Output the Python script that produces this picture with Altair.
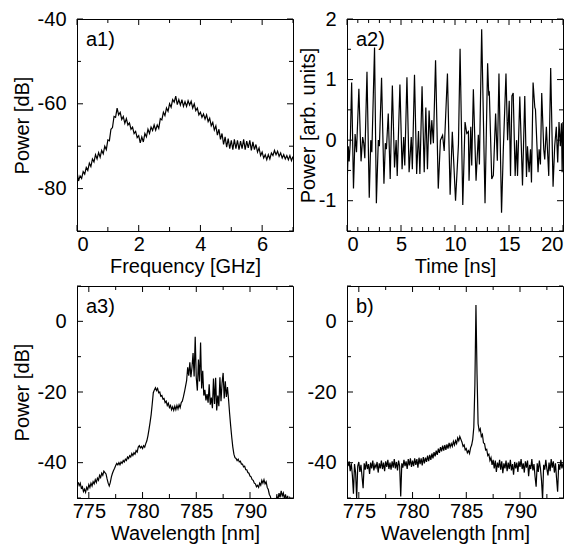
import altair as alt
import pandas as pd

FONT = "Liberation Sans"
W, H = 216, 212


def grid(start, step, n):
    return [round(start + i * step, 3) for i in range(n)]


a1_freq = grid(0.0, 0.05, 141)
a1_power = [
    -76.0, -78.2, -77.0, -77.6, -76.0, -76.6, -75.0, -75.7, -74.0, -74.8,
    -73.0, -73.7, -72.0, -73.0, -71.5, -72.6, -71.0, -71.8, -70.0, -70.8,
    -68.5, -68.7, -66.0, -65.6, -63.0, -63.2, -61.0, -62.6, -62.0, -63.7,
    -63.0, -64.6, -63.5, -65.0, -64.5, -66.0, -65.5, -67.0, -66.5, -68.0,
    -67.5, -69.2, -67.8, -69.0, -67.0, -67.8, -66.0, -67.0, -65.5, -66.3,
    -65.0, -66.2, -65.0, -65.8, -63.5, -63.8, -62.0, -62.8, -61.0, -61.8,
    -60.0, -60.8, -59.0, -59.6, -58.2, -60.2, -59.0, -60.3, -59.0, -60.6,
    -59.5, -60.6, -59.3, -60.3, -59.4, -61.0, -60.0, -61.6, -61.0, -62.6,
    -62.0, -63.2, -62.4, -63.6, -62.6, -64.2, -63.4, -65.2, -64.4, -66.2,
    -65.2, -67.4, -66.0, -68.4, -67.0, -69.6, -67.8, -70.2, -68.2, -70.6,
    -68.6, -70.8, -68.4, -70.6, -68.6, -70.8, -68.8, -70.6, -68.4, -70.8,
    -68.8, -70.4, -68.6, -71.0, -69.0, -70.8, -69.6, -71.4, -70.4, -72.2,
    -71.4, -72.8, -72.0, -73.2, -72.0, -73.0, -71.6, -72.2, -71.0, -72.0,
    -71.2, -72.4, -71.6, -72.8, -72.0, -73.0, -72.2, -73.2, -72.2, -73.4,
    -72.4,
]

a2_time = [
    0.00, 0.12, 0.20, 0.30, 0.43, 0.60, 0.75, 0.88, 1.10, 1.30,
    1.45, 1.55, 1.65, 1.85, 2.06, 2.20, 2.30, 2.55, 2.72, 2.90,
    3.00, 3.20, 3.42, 3.55, 3.65, 3.82, 4.00, 4.20, 4.40, 4.55,
    4.65, 4.90, 5.10, 5.25, 5.35, 5.55, 5.75, 5.95, 6.05, 6.25,
    6.45, 6.62, 6.75, 6.95, 7.15, 7.30, 7.45, 7.60, 7.75, 7.85,
    8.00, 8.20, 8.45, 8.65, 8.85, 9.00, 9.30, 9.55, 9.75, 10.05,
    10.32, 10.47, 10.72, 10.93, 11.09, 11.24, 11.30, 11.46, 11.55, 11.70,
    11.95, 12.16, 12.26, 12.47, 12.78, 13.02, 13.12, 13.18, 13.40, 13.55,
    13.76, 13.92, 14.07, 14.31, 14.47, 14.72, 14.87, 15.02, 15.14, 15.27,
    15.39, 15.57, 15.70, 15.79, 16.00, 16.25, 16.46, 16.62, 16.71, 16.86,
    16.99, 17.08, 17.23, 17.39, 17.45, 17.69, 17.79, 17.91, 18.03, 18.22,
    18.31, 18.46, 18.68, 18.86, 19.08, 19.23, 19.38, 19.51, 19.63, 19.75,
    19.86, 19.92, 20.00,
]
a2_power = [
    -0.80, -0.10, -0.35, -0.05, 0.95, -0.80, 0.10, -0.20, 0.85, -0.35,
    0.05, -0.05, -0.30, 1.13, -0.95, 0.00, -0.20, 1.53, -1.04, 0.00,
    -0.10, 1.03, -0.72, -0.05, -0.15, 0.44, -0.64, 0.90, -0.45, 0.00,
    -0.59, 0.92, -0.48, 0.05, -0.42, 1.04, -0.53, 0.05, -0.48, 1.08,
    -0.56, 0.15, -0.56, 0.89, -0.53, 0.54, -0.48, 0.49, -0.07, 0.33,
    -0.05, 1.32, -0.80, 0.00, 0.08, -0.18, 1.10, -0.90, 0.14, -1.00,
    -0.07, 1.51, -1.07, 0.30, 0.11, 0.14, -0.67, 0.22, -0.42, 0.84,
    -0.67, 0.09, -0.40, 1.83, -1.04, 1.27, 0.76, 0.78, -0.64, -0.58,
    0.44, -0.34, 1.10, -1.20, -0.18, 1.10, 0.00, 0.65, -0.59, 0.73,
    0.78, -0.59, 0.00, -0.59, 0.72, -0.75, 0.73, -0.61, -0.10, -0.53,
    -0.15, -0.70, 0.95, 0.54, 0.51, -0.53, -0.15, -0.40, 0.78, -0.16,
    -0.32, 0.22, -0.59, 1.19, -0.77, -0.10, 0.22, -0.37, 0.30, -0.10,
    0.28, -0.53, 0.30,
]

wavelength = grid(774.0, 0.1, 201)
a3_power = [
    -45.5, -46.5, -45.8, -47.2, -46.8, -48.2, -47.5, -48.4, -47.0, -47.6,
    -46.2, -47.0, -45.8, -46.6, -45.4, -46.0, -44.8, -45.6, -44.4, -45.0,
    -43.6, -44.2, -43.0, -43.6, -42.4, -42.8, -43.2, -44.6, -45.8, -46.6,
    -45.6, -44.0, -43.0, -42.2, -41.6, -40.8, -40.2, -40.6, -40.0, -40.6,
    -39.8, -40.2, -39.4, -39.8, -39.0, -39.4, -38.4, -38.8, -38.0, -38.4,
    -37.4, -38.0, -37.2, -37.6, -36.6, -37.0, -35.6, -35.2, -35.8, -35.4,
    -36.0, -35.2, -35.6, -34.6, -33.8, -32.4, -30.6, -28.6, -26.4, -23.4,
    -20.2, -19.4, -18.8, -19.6, -19.0, -20.2, -20.0, -21.2, -21.0, -22.0,
    -21.8, -23.0, -22.6, -23.8, -23.2, -24.4, -23.8, -25.0, -24.2, -25.2,
    -24.0, -25.0, -23.8, -24.8, -23.6, -24.4, -23.0, -22.6, -21.4, -20.0,
    -18.4, -16.8, -13.0, -15.4, -11.6, -15.8, -13.0, -9.0, -15.6, -4.4,
    -16.0, -19.6, -10.8, -17.0, -6.0, -19.0, -14.0, -21.0, -19.4, -22.4,
    -20.6, -23.0, -17.8, -23.6, -21.6, -24.6, -16.2, -23.4, -16.0, -25.2,
    -21.0, -24.0, -15.8, -22.6, -17.4, -14.6, -21.8, -17.0, -21.4, -18.6,
    -22.0, -26.0, -29.6, -32.8, -35.6, -37.6, -38.6, -38.8, -39.4, -39.0,
    -39.8, -39.6, -40.4, -40.4, -41.2, -41.0, -42.0, -42.0, -42.8, -43.0,
    -43.8, -44.0, -44.8, -45.0, -45.8, -46.0, -46.8, -46.4, -47.0, -45.8,
    -46.4, -45.0, -45.8, -44.8, -46.0, -45.4, -47.0, -47.6, -49.0, -49.6,
    -51.0, -50.4, -51.6, -50.0, -51.2, -49.6, -50.4, -48.6, -49.8, -48.0,
    -49.4, -48.6, -50.2, -49.0, -50.6, -49.4, -51.0, -50.0, -51.2, -50.4,
    -51.0,
]
b_power = [
    -41.0, -39.6, -42.4, -40.2, -43.6, -48.8, -40.4, -42.8, -50.2, -41.0,
    -39.8, -42.6, -40.6, -44.0, -47.2, -40.2, -42.0, -39.6, -41.8, -40.4,
    -43.2, -40.0, -41.6, -39.4, -42.2, -40.6, -41.4, -39.8, -42.8, -40.2,
    -41.6, -39.4, -41.8, -40.0, -42.4, -39.6, -41.2, -39.2, -41.8, -40.0,
    -42.0, -39.6, -41.4, -39.0, -41.6, -39.8, -42.2, -39.4, -41.0, -49.6,
    -40.2, -41.4, -39.2, -41.0, -39.6, -41.8, -39.0, -40.8, -38.8, -41.2,
    -39.4, -41.0, -38.8, -40.6, -39.0, -41.4, -38.6, -40.4, -38.8, -40.8,
    -38.4, -40.2, -38.6, -39.8, -38.0, -39.6, -37.8, -39.2, -37.4, -38.8,
    -37.0, -38.2, -36.6, -37.8, -36.0, -37.2, -35.6, -36.8, -35.2, -36.6,
    -35.0, -36.4, -34.8, -36.0, -34.4, -35.6, -34.6, -35.4, -34.0, -35.0,
    -33.8, -34.6, -33.0, -33.8, -32.6, -33.4, -34.2, -35.4, -35.0, -36.4,
    -36.0, -37.2, -36.6, -37.4, -35.8, -35.0, -33.4, -30.0, -18.0, 4.6,
    -15.0, -29.0, -31.0, -30.4, -32.6, -32.0, -34.4, -34.6, -36.4, -36.2,
    -38.0, -37.6, -39.4, -38.6, -40.6, -39.2, -41.6, -39.4, -42.6, -40.0,
    -41.4, -39.2, -42.0, -39.6, -43.0, -40.2, -41.6, -39.4, -42.4, -40.0,
    -41.8, -39.2, -42.2, -40.4, -43.4, -39.8, -41.6, -40.0, -42.6, -39.6,
    -41.2, -39.0, -41.8, -40.2, -42.8, -39.6, -41.4, -39.4, -43.8, -40.6,
    -41.8, -39.0, -42.2, -40.4, -44.0, -46.8, -40.2, -42.6, -39.4, -41.6,
    -45.0, -50.4, -40.6, -42.0, -39.2, -41.8, -43.6, -40.0, -42.4, -39.0,
    -41.4, -39.6, -42.8, -40.2, -44.4, -48.2, -40.4, -42.0, -39.2, -41.6,
    -40.2,
]

assert len(a1_freq) == len(a1_power)
assert len(a2_time) == len(a2_power)
assert len(wavelength) == len(a3_power) == len(b_power)

a1_x_major, a1_x_minor = [0, 2, 4, 6], [1, 3, 5, 7]
a1_y_major, a1_y_minor = [-40, -60, -80], [-50, -70, -90]
a2_x_major, a2_x_minor = [0, 5, 10, 15, 20], [1, 2, 3, 4, 6, 7, 8, 9, 11, 12, 13, 14, 16, 17, 18, 19]
a2_y_major, a2_y_minor = [2, 1, 0, -1], [1.5, 0.5, -0.5, -1.5]
wl_x_major, wl_x_minor = [775, 780, 785, 790], [777.5, 782.5, 787.5, 792.5]
wl_y_major, wl_y_minor = [0, -20, -40], [10, -10, -30, -50]


def panel(x, y, xdom, ydom, xmaj, xmin, ymaj, ymin, xtitle, ytitle, label, ytitle_pad):
    xs = alt.Scale(domain=xdom, nice=False, zero=False)
    ys = alt.Scale(domain=ydom, nice=False, zero=False)
    df = pd.DataFrame({"px": x, "py": y})
    xaxis = alt.Axis(title=xtitle, values=xmaj, labelPadding=3, titlePadding=2)
    if ytitle:
        yaxis = alt.Axis(title=ytitle, values=ymaj, labelExpr="datum.value + ''",
                         labelPadding=11, titlePadding=ytitle_pad)
    else:
        yaxis = alt.Axis(title=None, values=ymaj, labelExpr="datum.value + ''",
                         labelPadding=11)
    line = alt.Chart(df).mark_line(color="black", strokeWidth=1.2, clip=True).encode(
        x=alt.X("px:Q", scale=xs, axis=xaxis),
        y=alt.Y("py:Q", scale=ys, axis=yaxis),
        order=alt.Order("px:Q"),
    )
    layers = [line]
    for vals, L in ((xmaj, 6), (xmin, 4)):
        base = alt.Chart(pd.DataFrame({"tx": vals})).mark_rule(color="#000", strokeWidth=1)
        xe = alt.X("tx:Q", scale=xs, axis=None)
        layers.append(base.encode(x=xe, y=alt.value(H), y2=alt.value(H - L)))
        layers.append(base.encode(x=xe, y=alt.value(0), y2=alt.value(L)))
    for vals, L in ((ymaj, 6), (ymin, 4)):
        base = alt.Chart(pd.DataFrame({"ty": vals})).mark_rule(color="#000", strokeWidth=1)
        ye = alt.Y("ty:Q", scale=ys, axis=None)
        layers.append(base.encode(y=ye, x=alt.value(0), x2=alt.value(L)))
        layers.append(base.encode(y=ye, x=alt.value(W), x2=alt.value(W - L)))
    txt = alt.Chart(pd.DataFrame({"t": [label]})).mark_text(
        align="left", baseline="alphabetic", fontSize=20, font=FONT, color="black"
    ).encode(x=alt.value(9), y=alt.value(27), text="t:N")
    layers.append(txt)
    return alt.layer(*layers).resolve_axis(x="independent", y="independent").properties(
        width=W, height=H)


p1 = panel(a1_freq, a1_power, [0, 7], [-90, -40], a1_x_major, a1_x_minor,
           a1_y_major, a1_y_minor, "Frequency [GHz]", "Power [dB]", "a1)", 5)
p2 = panel(a2_time, a2_power, [0, 20], [-1.5, 2], a2_x_major, a2_x_minor,
           a2_y_major, a2_y_minor, "Time [ns]", "Power [arb. units]", "a2)", 0)
p3 = panel(wavelength, a3_power, [773.9, 794], [-50, 10], wl_x_major, wl_x_minor,
           wl_y_major, wl_y_minor, "Wavelength [nm]", "Power [dB]", "a3)", 5)
p4 = panel(wavelength, b_power, [773.9, 794], [-50, 10], wl_x_major, wl_x_minor,
           wl_y_major, wl_y_minor, "Wavelength [nm]", None, "b)", 5)

chart = alt.concat(p1, p2, p3, p4, columns=2, spacing={"row": 55, "column": 54},
                   bounds="flush").properties(
    padding={"left": 3, "top": 0, "right": 12, "bottom": 0}
).configure_axis(
    labelFont=FONT, labelFontSize=20, labelColor="black",
    titleFont=FONT, titleFontSize=20, titleFontWeight="normal", titleColor="black",
    grid=False, domain=True, domainColor="black", domainWidth=1, ticks=False,
).configure_view(stroke="#000000", strokeWidth=1)

chart.save("out.html", embed_options={"renderer": "svg", "actions": False})
